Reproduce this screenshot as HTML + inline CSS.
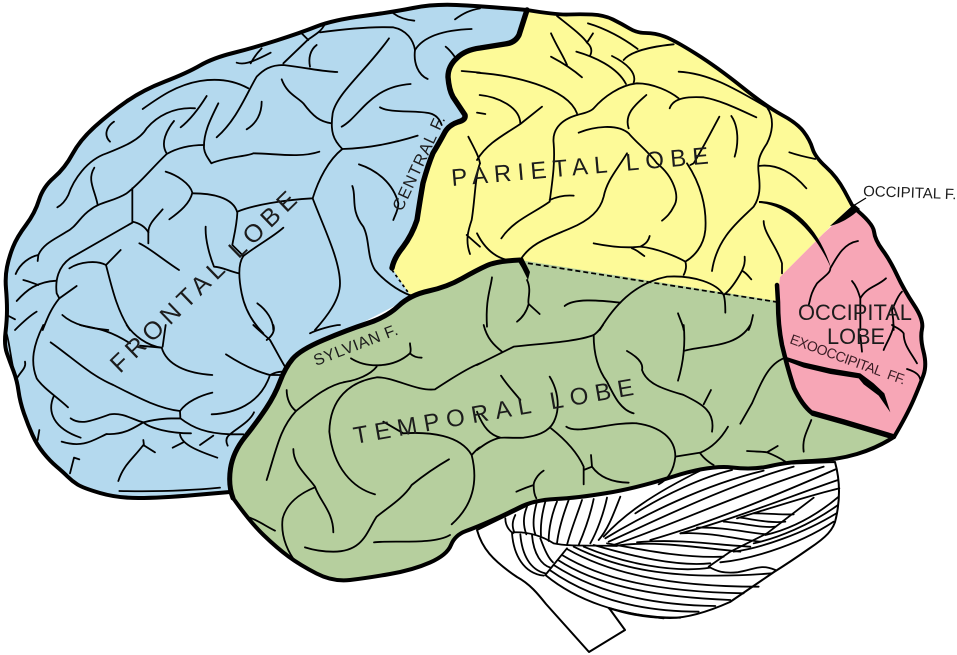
<!DOCTYPE html>
<html>
<head>
<meta charset="utf-8">
<style>
html,body{margin:0;padding:0;background:#fff;width:957px;height:655px;overflow:hidden}
svg{display:block}
text{font-family:"Liberation Sans",sans-serif;fill:#1c1c1c}
.t path{fill:none;stroke:#000;stroke-width:5.4;stroke-linecap:round;stroke-linejoin:round}
.o{fill:none;stroke:#000;stroke-linejoin:round;stroke-linecap:round}
</style>
</head>
<body>
<svg width="957" height="655" viewBox="0 0 957 655" xmlns="http://www.w3.org/2000/svg">

<!-- cerebellum + stem -->
<path d="M477,530 C482,548 492,560 517,577 C530,584 538,594 546,604 L589,652 L625,630 L609,608 C630,615 650,618 670,618 C690,618 712,610 730,602 L774,572 C790,562 800,555 810,548 C825,538 834,530 836,518 C840,500 840,480 835,462 L600,470 Z" fill="#fff" stroke="#000" stroke-width="2" stroke-linejoin="round"/>
<g class="t" transform="translate(477,325) scale(.33333)" style="stroke-width:5">
<path d="M85,580 C85,600 95,615 108,625"/>
<path d="M115,570 C105,590 105,605 112,622"/>
<path d="M150,545 C138,575 138,600 148,628"/>
<path d="M180,530 C170,565 165,600 175,628"/>
<path d="M205,530 C195,565 190,600 192,632"/>
<path d="M240,530 C225,565 215,610 215,648"/>
<path d="M275,525 C260,565 245,610 240,655"/>
<path d="M315,525 C300,570 280,620 270,660"/>
<path d="M350,522 C340,570 320,625 305,660"/>
<path d="M390,518 C380,565 360,620 340,655"/>
<path d="M430,515 C410,565 395,610 365,645"/>
<path d="M108,622 C150,620 190,630 230,655 C280,665 330,660 420,663"/>
<path d="M105,625 C110,690 140,745 200,752"/>
<path d="M130,628 C135,690 160,735 205,745"/>
<path d="M165,630 C170,690 195,720 220,728"/>
<path d="M190,640 C205,680 215,700 228,712"/>
<path d="M270,670 L205,750"/>
<path d="M205,750 C290,820 430,880 610,878"/>
<path d="M218,735 C310,800 450,860 665,860"/>
<path d="M230,720 C330,785 480,840 715,843"/>
<path d="M243,705 C350,775 510,815 760,825"/>
<path d="M255,690 C370,760 530,800 800,805"/>
<path d="M270,672 C390,740 560,785 845,785"/>
<path d="M290,665 C410,725 570,770 885,745"/>
<path d="M320,665 C440,715 590,745 700,728"/>
<path d="M350,660 C470,695 600,725 700,715"/>
<path d="M390,655 C500,675 620,700 740,695"/>
<path d="M420,662 C530,645 680,670 790,680"/>
<path d="M480,652 C600,640 720,660 820,665"/>
<path d="M610,625 C700,620 790,645 850,650"/>
<path d="M660,608 C740,605 820,625 870,628"/>
<path d="M740,590 C800,595 860,610 895,605"/>
<path d="M790,578 C840,585 880,595 925,590"/>
<path d="M830,565 C880,565 920,570 950,568"/>
<path d="M695,725 C720,740 740,745 780,742 C830,735 850,715 895,735 M695,725 L760,680 L870,625 L1010,518"/>
<path d="M730,712 C800,705 950,670 1070,590"/>
<path d="M770,680 C850,670 980,625 1078,565"/>
<path d="M830,655 C900,640 1000,600 1083,540"/>
<path d="M865,630 C950,610 1020,570 1085,515"/>
<path d="M380,635 C440,570 520,510 680,432"/>
<path d="M475,565 C560,510 680,455 765,435"/>
<path d="M385,640 C500,570 680,480 860,437"/>
<path d="M395,650 C530,590 750,480 950,425"/>
<path d="M410,660 C560,610 800,500 1040,425"/>
<path d="M520,645 C680,600 900,510 1078,432"/>
<path d="M610,625 C750,590 950,510 1083,465"/>
<path d="M780,580 C880,550 1000,510 1087,490"/>
<path d="M395,850 C440,860 500,875 560,880"/>
</g>

<!-- frontal -->
<path d="M527,10 Q480,6 456.5,5 Q433,4 413,8 Q393,12 363,16 Q333,20 316.5,26.5 Q300,33 276.5,40.5 Q253,48 233,53 Q213,58 200,65.5 Q187,73 165,81.5 Q143,90 126.5,101.5 Q110,113 95,126.5 Q80,140 72.5,154 Q65,168 54,177.5 Q43,187 39,200 Q35,213 26,225 Q17,237 13,247 Q9,257 7,267 Q5,277 6,288.5 Q7,300 7,310 Q7,320 5.5,332.5 Q4,345 7,353.5 Q10,362 13.5,371 Q17,380 18.5,391 Q20,402 24,413.5 Q28,425 32.5,435 Q37,445 43.5,453 Q50,461 56.5,466.5 Q63,472 67.5,476.5 Q72,481 77.5,484.5 Q83,488 100,493 Q117,498 138.5,498 Q160,498 195,495 L230,492 L290,360 L412,297 L392,268 L403,247 L417,220 L423,183 L433,153 L445,132 L458,122 L465,115 L453,97 L448,77 L457,58 L480,48 L505,44 L519,35 Z" fill="#b4d9ee"/>
<path class="o" stroke-width="4" d="M527,10 Q480,6 456.5,5 Q433,4 413,8 Q393,12 363,16 Q333,20 316.5,26.5 Q300,33 276.5,40.5 Q253,48 233,53 Q213,58 200,65.5 Q187,73 165,81.5 Q143,90 126.5,101.5 Q110,113 95,126.5 Q80,140 72.5,154 Q65,168 54,177.5 Q43,187 39,200 Q35,213 26,225 Q17,237 13,247 Q9,257 7,267 Q5,277 6,288.5 Q7,300 7,310 Q7,320 5.5,332.5 Q4,345 7,353.5 Q10,362 13.5,371 Q17,380 18.5,391 Q20,402 24,413.5 Q28,425 32.5,435 Q37,445 43.5,453 Q50,461 56.5,466.5 Q63,472 67.5,476.5 Q72,481 77.5,484.5 Q83,488 100,493 Q117,498 138.5,498 Q160,498 195,495 L230,492"/>

<!-- parietal -->
<path d="M527,10 Q557,15 568.5,14.5 Q580,14 592,14.5 Q604,15 613,19.5 Q622,24 629.5,28.5 Q637,33 646,33 Q655,33 664.5,36.5 Q674,40 695.5,53.5 Q717,67 742,87 Q767,107 782,115 Q797,123 803.5,131.5 Q810,140 812.5,148.5 Q815,157 826,167 Q837,177 844.5,191 L852,205 L830,227 L780,277 L777,302 L523,262 L410,295 L392,268 L403,247 L417,220 L423,183 L433,153 L445,132 L458,122 L465,115 L453,97 L448,77 L457,58 L480,48 L505,44 L519,35 Z" fill="#fdfa98"/>
<path class="o" stroke-width="3.8" d="M527,10 Q557,15 568.5,14.5 Q580,14 592,14.5 Q604,15 613,19.5 Q622,24 629.5,28.5 Q637,33 646,33 Q655,33 664.5,36.5 Q674,40 695.5,53.5 Q717,67 742,87 Q767,107 782,115 Q797,123 803.5,131.5 Q810,140 812.5,148.5 Q815,157 826,167 Q837,177 844.5,191 L852,205"/>
<path class="o" stroke-width="5.4" d="M527,10 L519,35 Q515,43 505,44 L480,48 Q465,50 457,58 Q448,66 448,77 Q449,90 453,97 L465,115 Q466,120 458,122 Q449,125 445,132 Q438,145 433,153 Q428,165 423,183 Q420,200 417,220 Q412,235 403,247 Q394,258 392,268"/>
<path d="M392,270 L410,295" fill="none" stroke="#000" stroke-width="1.7" stroke-dasharray="3 3"/>

<!-- temporal -->
<path d="M233,498 Q228,485 230.5,468.5 Q233,452 245,437 Q257,422 266,408.5 Q275,395 280,381.5 Q285,368 292.5,359 Q300,350 323.5,340 Q347,330 367,323.5 Q387,317 398.5,306 Q410,295 428.5,291 Q447,287 462,278.5 Q477,270 487,265.5 Q497,261 520,260 L777,301 L779,325 L785,358 L794,388 L812,413 L844,422 L894,437 Q877,448 857,454 Q837,460 812,461 Q787,462 770.5,466 Q754,470 732,467.5 Q710,465 673.5,476.5 Q637,488 607,493 Q577,498 555.5,499 Q534,500 519,507.5 Q504,515 490.5,521 Q477,527 466,531 Q455,535 451,545 Q447,555 430,562.5 Q413,570 390,574 Q367,578 350,580 Q333,582 316.5,573.5 Q300,565 288.5,556.5 Q277,548 263.5,535 Q250,522 233,498 Z" fill="#b6cf9e"/>
<path d="M520,262 L777,302" fill="none" stroke="#000" stroke-width="1.7" stroke-dasharray="5 3"/>
<path class="o" stroke-width="4" d="M233,498 Q250,522 263.5,535 Q277,548 288.5,556.5 Q300,565 316.5,573.5 Q333,582 350,580 Q367,578 390,574 Q413,570 430,562.5 Q447,555 451,545 Q455,535 466,531 Q477,527 490.5,521 Q504,515 519,507.5 Q534,500 555.5,499 Q577,498 607,493 Q637,488 673.5,476.5 Q710,465 732,467.5 Q754,470 770.5,466 Q787,462 812,461 Q837,460 857,454 Q877,448 894,437"/>
<path class="o" stroke-width="5" d="M233,498 Q228,485 230.5,468.5 Q233,452 245,437 Q257,422 266,408.5 Q275,395 280,381.5 Q285,368 292.5,359 Q300,350 323.5,340 Q347,330 367,323.5 Q387,317 398.5,306 Q410,295 428.5,291 Q447,287 462,278.5 Q477,270 487,265.5 Q497,261 520,260"/>
<path d="M516,258 L523,258 L530,272 L528,280 L522,268 Z" fill="#000"/>

<!-- occipital -->
<path d="M853,207 Q873,223 874,231.5 Q875,240 882.5,250 Q890,260 897,275 Q904,290 914,305 Q924,320 922,329 Q920,338 923.5,351.5 Q927,365 923.5,375 Q920,385 913.5,400 Q907,415 894,437 L844,422 L812,413 L794,388 L785,358 L782,345 L779,325 L777,302 L780,277 L824,233 Z" fill="#f7a6b6"/>
<path class="o" stroke-width="4" d="M853,207 Q873,223 874,231.5 Q875,240 882.5,250 Q890,260 897,275 Q904,290 914,305 Q924,320 922,329 Q920,338 923.5,351.5 Q927,365 923.5,375 Q920,385 913.5,400 Q907,415 894,437"/>
<path class="o" stroke-width="4.5" d="M777,285 L778,302 Q778,325 782,345 Q788,370 794,388 Q802,405 812,413"/>
<path d="M812,413 L844,422 L894,437" fill="none" stroke="#000" stroke-width="5.5"/>
<path d="M854,204 L830,226 C838,224 848,220 860,209 Z" fill="#000"/>
<path d="M853,206 L866,198" stroke="#000" stroke-width="1.3"/>

<!-- thick fissures -->
<path d="M759,201 C790,201 818,225 831,268 C815,232 788,205 759,203 Z" fill="#000"/>
<g transform="translate(477,325) scale(.33333)">
<path d="M925,95 L980,112 L1060,130 L1150,145 L1190,175 L1222,205 L1240,262 L1205,212 L1160,178 L1145,160 L1060,147 L980,128 L933,110 Z" fill="#000"/>
</g>

<!-- sulci top-left -->
<g class="t" transform="scale(.33333)">
<path d="M1180,40 C1200,55 1220,60 1243,62"/>
<path d="M1365,58 C1390,40 1410,30 1440,25"/>
<path d="M905,100 L925,120 M975,72 C965,90 960,95 925,118 L850,190"/>
<path d="M960,97 C1050,85 1130,80 1180,82 C1220,90 1240,120 1245,150 C1240,190 1255,225 1283,237"/>
<path d="M1245,150 C1270,110 1330,90 1415,87"/>
<path d="M1337,140 C1350,150 1365,170 1370,180"/>
<path d="M710,188 C730,195 750,190 812,158 M785,145 C770,160 760,175 752,190"/>
<path d="M1012,216 C970,215 930,205 850,195 C810,195 790,210 770,230 C740,280 710,360 650,412"/>
<path d="M950,135 C930,150 925,175 930,200"/>
<path d="M745,265 C700,240 650,235 600,243 C530,255 480,290 428,327"/>
<path d="M620,288 C600,320 570,360 542,382"/>
<path d="M585,325 C520,320 470,350 440,385 C420,420 370,440 320,460 C260,480 220,540 205,585 C195,605 185,615 172,622"/>
<path d="M342,365 C320,380 310,405 330,425"/>
<path d="M655,310 C630,360 610,400 612,445 C615,465 625,475 634,490 C680,470 740,470 760,460 C820,460 900,475 958,455"/>
<path d="M612,435 C570,435 530,445 500,462 C450,510 420,550 380,580 C340,605 300,605 270,630 C240,650 230,680 200,695 C170,715 130,730 115,765 C90,770 60,790 47,822"/>
<path d="M522,363 C500,390 480,430 500,460"/>
<path d="M115,765 L113,783"/>
<path d="M785,305 C785,340 770,370 740,388"/>
<path d="M283,503 C260,540 285,570 293,615"/>
<path d="M397,565 L397,665 C420,670 435,680 445,697 M397,668 C340,700 280,735 210,775 C175,800 165,840 170,880 L178,895"/>
<path d="M497,515 C530,525 570,550 577,578 C570,610 540,635 508,658"/>
<path d="M577,580 C630,580 700,590 712,638 C710,680 700,715 697,735 L730,768 C780,730 820,710 850,683"/>
<path d="M712,635 C760,615 850,600 938,595 C955,540 985,480 1027,447 C1100,445 1180,430 1253,407"/>
<path d="M1027,447 C1000,420 990,395 998,340 C1010,280 1100,210 1167,115"/>
<path d="M845,238 C860,280 890,290 910,310 C940,350 960,365 995,370"/>
<path d="M1025,380 C1080,350 1110,260 1232,252"/>
<path d="M1140,322 C1170,340 1250,330 1290,340 C1310,345 1320,360 1325,375"/>
<path d="M938,595 C970,680 1020,780 1020,850 C1020,900 980,950 945,990"/>
<path d="M1077,493 C1130,510 1180,550 1195,610 C1195,630 1185,645 1180,660"/>
<path d="M1057,558 C1070,590 1050,630 1090,680 C1110,720 1100,770 1125,810 C1150,840 1190,870 1228,885"/>
<path d="M445,697 C445,670 470,650 488,628"/>
<path d="M445,697 L445,730 M418,730 C450,745 490,780 537,810"/>
<path d="M617,680 C615,720 630,770 642,800 C665,800 690,815 717,820"/>
<path d="M730,768 C715,790 715,830 725,880 C735,930 760,970 790,1000"/>
<path d="M362,750 L318,795 C290,780 240,785 208,805"/>
<path d="M318,795 C335,860 350,930 390,990"/>
<path d="M70,840 C90,845 100,850 115,855 M50,903 C80,870 110,845 170,842"/>
<path d="M230,858 L178,895 C150,930 140,960 128,990"/>
<path d="M187,945 C220,975 270,985 325,990"/>
<path d="M110,935 C85,950 60,975 45,990 M20,945 L45,958"/>
<path d="M772,910 C800,930 820,960 820,990"/>
<path d="M1385,213 C1410,215 1430,217 1440,218"/>
<path d="M1405,410 C1420,440 1435,465 1440,490"/>
<path d="M1440,490 C1425,530 1425,600 1415,660 C1405,690 1395,720 1410,762"/>
<path d="M1400,705 L1440,740"/>
</g>

<!-- sulci bottom-left -->
<g class="t" transform="translate(0,325) scale(.33333)">
<path d="M130,0 C100,60 90,110 110,160 C130,190 170,215 204,247"/>
<path d="M152,52 C220,100 270,150 340,180 C400,210 470,250 540,258 C560,230 600,212 637,203"/>
<path d="M162,212 C140,260 160,310 242,338"/>
<path d="M212,280 C240,300 270,290 330,268 C370,262 400,285 430,292 C480,280 510,280 541,280 C541,270 540,265 540,258 M541,280 C580,310 620,325 690,328 L730,328"/>
<path d="M185,350 C250,370 280,345 320,327 C370,330 400,310 430,292 C450,310 510,325 573,325"/>
<path d="M540,328 C545,360 600,380 652,398 M518,368 L550,352"/>
<path d="M600,360 L640,332"/>
<path d="M683,362 C675,345 680,335 690,328 C710,310 750,290 762,262"/>
<path d="M635,268 C700,265 780,240 810,150 C820,145 835,140 845,140 M678,88 C720,115 770,140 810,150 L850,150"/>
<path d="M380,0 C400,30 440,62 485,68 C500,120 560,145 637,150 M420,62 L485,68 M497,0 L488,65"/>
<path d="M760,0 C780,20 800,35 810,45 C830,80 840,100 855,125"/>
<path d="M930,25 C950,15 1000,0 1020,0"/>
<path d="M800,45 C820,30 825,15 820,0"/>
<path d="M240,0 C280,10 320,10 390,55"/>
<path d="M48,165 C60,140 80,130 75,110 M15,10 C30,50 30,100 48,165"/>
<path d="M355,468 C370,420 400,400 430,360 L465,382 M430,345 L432,362"/>
<path d="M358,498 C450,500 560,498 660,488"/>
<path d="M118,315 L113,345"/>
<path d="M210,445 L222,398 L238,403"/>
<path d="M860,195 C860,220 870,245 888,258"/>
<path d="M800,465 C830,370 840,310 888,258 C930,225 980,180 1040,170 C1070,165 1110,150 1130,125"/>
<path d="M1053,100 C1100,130 1180,130 1230,85 C1235,75 1230,65 1230,55 M1230,85 C1240,95 1250,98 1265,98"/>
<path d="M1125,508 C1060,490 1000,430 988,320 C990,220 1050,170 1130,157 C1180,155 1250,200 1305,193 C1340,170 1400,130 1440,115"/>
<path d="M1150,290 L1210,325 C1290,320 1380,330 1415,390 C1435,470 1420,540 1355,598"/>
<path d="M1415,390 C1425,380 1430,372 1440,367"/>
<path d="M1347,403 C1300,430 1260,460 1235,480 C1210,520 1160,550 1130,575 C1100,620 1090,680 1000,680 C970,680 940,675 915,667"/>
<path d="M880,372 C880,420 920,450 945,485 C960,530 1000,560 1000,622"/>
<path d="M945,487 C900,505 860,535 848,580 C840,640 870,690 890,715"/>
<path d="M750,578 C780,590 800,605 825,617"/>
<path d="M1122,652 C1180,645 1300,660 1350,630"/>
</g>

<!-- sulci bottom-right -->
<g class="t" transform="translate(477,325) scale(.33333)">
<path d="M20,0 C30,40 50,60 75,80"/>
<path d="M0,120 C40,100 80,80 110,65 C200,55 300,50 350,30 C365,20 370,10 378,0"/>
<path d="M350,30 C350,80 360,130 390,170 C410,210 430,255 470,265"/>
<path d="M450,78 C480,95 500,115 495,135 C510,180 570,195 620,210 C680,240 715,260 705,320"/>
<path d="M702,195 L680,238"/>
<path d="M620,0 C625,50 620,110 603,167 M620,78 C680,60 780,70 820,0"/>
<path d="M72,152 C90,180 110,200 130,225"/>
<path d="M218,155 C240,190 250,240 235,280 C225,310 200,330 140,338 C100,340 70,335 60,340"/>
<path d="M0,260 C20,310 40,330 70,338 C40,345 20,360 0,375"/>
<path d="M222,310 C260,340 300,380 320,425 L320,478 M320,435 L345,425 L342,390 M345,425 C370,460 410,472 455,473"/>
<path d="M268,305 C300,330 400,290 480,295 C550,305 595,340 595,395 C590,440 570,465 545,478"/>
<path d="M595,395 L670,383 C700,370 730,345 753,305 M670,385 C680,400 700,415 710,420"/>
<path d="M920,100 C870,120 850,180 825,235 L790,296"/>
<path d="M810,378 C840,380 860,380 870,382 L902,363 M870,382 C890,390 910,400 925,410"/>
<path d="M1003,285 C990,320 975,340 980,380"/>
<path d="M200,437 C180,450 170,470 170,480 C140,490 130,495 118,500 M170,480 C170,500 172,510 178,520"/>
<path d="M1320,115 C1300,80 1280,60 1280,25 C1270,10 1250,5 1245,0"/>
<path d="M1250,0 C1250,20 1225,60 1220,75"/>
<path d="M1150,30 L1155,80"/>
<path d="M1290,132 C1315,140 1335,150 1330,180"/>
</g>

<!-- sulci top-right -->
<g class="t" transform="translate(477,0) scale(.33333)">
<path d="M0,218 C100,225 270,260 300,340"/>
<path d="M8,285 C60,290 130,320 130,372 M195,320 L130,372 C80,405 30,430 0,480"/>
<path d="M0,338 L25,342"/>
<path d="M222,100 C240,140 260,170 270,195 M222,170 C260,190 290,210 315,232"/>
<path d="M240,48 C280,80 320,110 330,128 M348,100 L330,128 C345,140 345,155 340,165 M298,155 C350,170 420,200 447,252"/>
<path d="M333,70 C385,85 440,115 482,147 M440,180 C460,155 520,140 590,133"/>
<path d="M405,168 C450,190 480,220 470,248"/>
<path d="M300,345 C320,340 340,335 350,325 C380,290 430,255 480,250 C530,250 580,275 605,295"/>
<path d="M578,325 C590,290 640,290 680,292 C730,300 790,330 838,352"/>
<path d="M605,215 C700,220 780,270 870,322 C890,350 890,390 870,430 C850,460 840,480 845,520 C850,560 850,590 830,620 C790,660 720,710 705,813"/>
<path d="M845,498 C900,490 950,520 988,565"/>
<path d="M300,345 C250,360 225,390 230,430 C235,490 225,550 218,605 C170,640 110,660 73,715 M218,600 C240,590 265,585 290,587"/>
<path d="M305,398 C350,380 420,370 455,400 C480,430 510,450 540,490 C590,530 610,590 590,620 C580,640 570,650 555,662"/>
<path d="M508,285 C480,310 440,340 455,385"/>
<path d="M727,350 C700,400 680,440 650,490 L640,495"/>
<path d="M763,348 C785,380 785,430 773,470"/>
<path d="M630,490 C670,550 690,620 685,690 C680,740 650,770 625,785 C630,800 625,815 620,825"/>
<path d="M350,730 C400,740 450,745 490,740 C510,730 515,720 518,708 M465,745 C480,750 490,760 502,768 M490,740 C540,745 600,770 625,785"/>
<path d="M450,460 C420,510 390,540 380,590 C370,630 340,660 280,685 C210,715 160,730 130,780"/>
<path d="M0,700 C20,740 50,770 90,780"/>
<path d="M860,663 C860,700 900,740 915,790 L915,820"/>
<path d="M803,770 C805,790 800,800 795,812 C780,840 760,870 740,885 M795,812 C810,820 815,830 823,838"/>
<path d="M937,457 C960,465 990,472 1015,477"/>
<path d="M45,832 C40,870 25,900 30,980"/>
<path d="M150,840 C165,870 150,900 155,912 C150,930 140,950 120,965 M155,912 L188,942"/>
<path d="M263,918 C290,895 360,900 430,908"/>
<path d="M368,990 C410,920 470,850 570,830 C650,825 720,850 740,885 C745,900 745,920 745,938"/>
<path d="M603,940 C610,960 620,980 620,990"/>
<path d="M828,945 C825,960 820,980 815,990"/>
<path d="M1143,723 C1100,730 1080,770 1060,805 C1060,820 1040,830 1020,850 C1000,880 1000,900 995,915"/>
<path d="M1125,843 C1140,860 1145,880 1150,895 C1170,860 1200,860 1227,835"/>
<path d="M1150,895 L1150,990"/>
<path d="M1275,875 C1260,890 1255,910 1245,930 C1250,960 1250,975 1250,990"/>
</g>

<!-- labels -->
<text transform="translate(120,374) rotate(-44)" font-size="25" textLength="248" lengthAdjust="spacing">FRONTAL LOBE</text>
<text transform="translate(452,186) rotate(-5)" font-size="24" textLength="258" lengthAdjust="spacing">PARIETAL LOBE</text>
<text transform="translate(355,444) rotate(-10)" font-size="24" textLength="284" lengthAdjust="spacing">TEMPORAL LOBE</text>
<text x="798" y="320" font-size="22" textLength="114" lengthAdjust="spacingAndGlyphs">OCCIPITAL</text>
<text x="827" y="344" font-size="22" textLength="58" lengthAdjust="spacingAndGlyphs">LOBE</text>
<text transform="translate(402,212) rotate(-65)" font-size="16.5" textLength="103" lengthAdjust="spacing">CENTRAL F.</text>
<text transform="translate(316,366) rotate(-21)" font-size="16" textLength="89" lengthAdjust="spacing">SYLVIAN F.</text>
<text transform="translate(863,196) rotate(2)" font-size="15">OCCIPITAL F.</text>
<text transform="translate(789,343) rotate(20)" font-size="14" textLength="122" lengthAdjust="spacing" style="fill:#3a1c24">EXOOCCIPITAL&#160;&#160;FF.</text>
</svg>
</body>
</html>
